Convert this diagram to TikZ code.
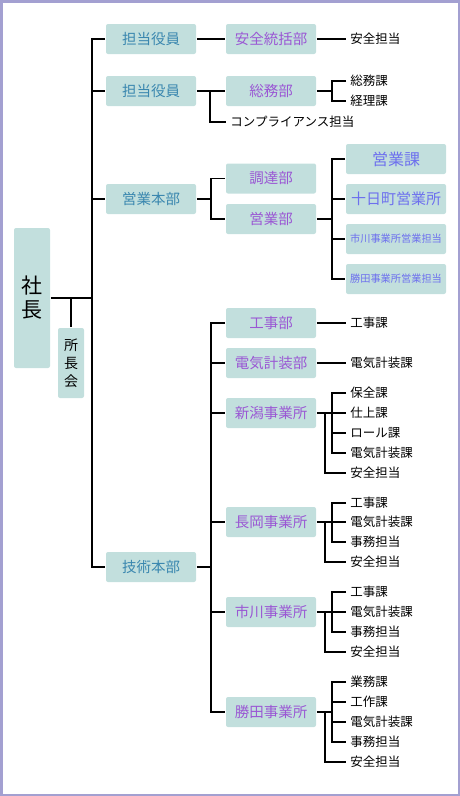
\documentclass[tikz,border=0pt]{standalone}
\usepackage{fontspec}
\setmainfont{Noto Sans CJK JP}
\definecolor{boxfill}{HTML}{C2DFDD}
\definecolor{headtext}{HTML}{3A87AF}
\definecolor{depttext}{HTML}{9A57D4}
\definecolor{salestext}{HTML}{6D70EE}
\definecolor{framecol}{HTML}{A3A0D1}
\begin{document}
\begin{tikzpicture}
  [x=1pt,y=-1pt,line width=1.8pt,
   box/.style={fill=boxfill,rounded corners=2pt,inner sep=0pt,minimum width=90pt,minimum height=30pt,font=\fontsize{14.5}{16}\selectfont},
   head box/.style={box,text=headtext},
   dept box/.style={box,text=depttext},
   sales box/.style={box,text=salestext,minimum width=100pt},
   item/.style={anchor=west,inner xsep=3.5pt,inner ysep=1pt,font=\fontsize{12.5}{14}\selectfont}]
  \useasboundingbox (0,0) rectangle (460,796);
  \draw[framecol,line width=2.5pt] (1.25,1.25) rectangle (458.75,794.75);

  % top
  \node[box,minimum width=36pt,minimum height=140pt,align=center,font=\fontsize{21}{24}\selectfont] (shacho) at (32,298) {社\\長};
  \node[box,minimum width=26pt,minimum height=70pt,align=center,font=\fontsize{14}{18}\selectfont] (shochokai) at (71,363) {所\\長\\会};

  % honbu
  \node[head box] (yakuin1) at (151,39) {担当役員};
  \node[head box] (yakuin2) at (151,91) {担当役員};
  \node[head box] (eigyohonbu) at (151,199) {営業本部};
  \node[head box] (gijutsu) at (151,567) {技術本部};

  % bu
  \node[dept box] (anzentokatsu) at (271,39) {安全統括部};
  \node[dept box] (somu) at (271,91) {総務部};
  \node[dept box] (chotatsu) at (271,178.5) {調達部};
  \node[dept box] (eigyobu) at (271,219) {営業部};
  \node[dept box] (koji) at (271,323) {工事部};
  \node[dept box] (denki) at (271,363) {電気計装部};
  \node[dept box] (niigata) at (271,413) {新潟事業所};
  \node[dept box] (nagaoka) at (271,522) {長岡事業所};
  \node[dept box] (ichikawa) at (271,612) {市川事業所};
  \node[dept box] (katsuta) at (271,712) {勝田事業所};

  % eigyo
  \node[sales box,font=\fontsize{16}{18}\selectfont] (eigyoka) at (396,159) {営業課};
  \node[sales box,font=\fontsize{15}{18}\selectfont] (tokamachi) at (396,199) {十日町営業所};
  \node[sales box,font=\fontsize{10.2}{12}\selectfont] (ichikawaeigyo) at (396,239) {市川事業所営業担当};
  \node[sales box,font=\fontsize{10.2}{12}\selectfont] (katsutaeigyo) at (396,279) {勝田事業所営業担当};

  % ka
  \node[item] (anzen1) at (346,39) {安全担当};
  \node[item] (compliance) at (226,122) {コンプライアンス担当};
  \node[item] (somuka) at (346,81) {総務課};
  \node[item] (keirika) at (346,101) {経理課};
  \node[item] (kojika1) at (346,323) {工事課};
  \node[item] (denkika1) at (346,363) {電気計装課};
  \node[item] (hozen) at (346,393) {保全課};
  \node[item] (shiage) at (346,413) {仕上課};
  \node[item] (roll) at (346,433) {ロール課};
  \node[item] (denkika2) at (346,453) {電気計装課};
  \node[item] (anzen2) at (346,473) {安全担当};
  \node[item] (kojika2) at (346,503) {工事課};
  \node[item] (denkika3) at (346,522) {電気計装課};
  \node[item] (jimu1) at (346,542) {事務担当};
  \node[item] (anzen3) at (346,562) {安全担当};
  \node[item] (kojika3) at (346,592) {工事課};
  \node[item] (denkika4) at (346,612) {電気計装課};
  \node[item] (jimu2) at (346,632) {事務担当};
  \node[item] (anzen4) at (346,652) {安全担当};
  \node[item] (gyomu) at (346,682) {業務課};
  \node[item] (kosaku) at (346,702) {工作課};
  \node[item] (denkika5) at (346,722) {電気計装課};
  \node[item] (jimu3) at (346,742) {事務担当};
  \node[item] (anzen5) at (346,762) {安全担当};

  \coordinate (trunk) at (92,298);
  \coordinate (y2) at (210,91);
  \coordinate (s2) at (332,91);
  \coordinate (e2) at (211,199);
  \coordinate (e3) at (332,219);
  \coordinate (g2) at (211,567);
  \coordinate (n1) at (332,413);
  \coordinate (n2) at (325,413);
  \coordinate (a1) at (332,522);
  \coordinate (a2) at (325,522);
  \coordinate (i1) at (332,612);
  \coordinate (i2) at (325,612);
  \coordinate (k1) at (332,712);
  \coordinate (k2) at (325,712);

  \draw (shacho) -- (trunk);
  \draw (shochokai) -- (shochokai.north |- trunk);
  \draw (yakuin1) -| (trunk) |- (gijutsu);
  \draw (trunk |- yakuin2) -- (yakuin2);
  \draw (trunk |- eigyohonbu) -- (eigyohonbu);

  \draw (yakuin1) -- (anzentokatsu);
  \draw (anzentokatsu) -- (anzen1);
  \draw (yakuin2) -- (somu);
  \draw (y2) |- (compliance);
  \draw (somu) -- (s2);
  \draw (somuka) -| (s2) |- (keirika);

  \draw (eigyohonbu) -- (e2);
  \draw (chotatsu) -| (e2) |- (eigyobu);
  \draw (eigyobu) -- (e3);
  \draw (eigyoka) -| (e3) |- (katsutaeigyo);
  \draw (e3 |- tokamachi) -- (tokamachi);
  \draw (e3 |- ichikawaeigyo) -- (ichikawaeigyo);

  \draw (gijutsu) -- (g2);
  \draw (koji) -| (g2) |- (katsuta);
  \foreach \n in {denki,niigata,nagaoka,ichikawa}
    \draw (g2 |- \n) -- (\n);
  \draw (koji) -- (kojika1);
  \draw (denki) -- (denkika1);

  \draw (niigata) -- (shiage);
  \draw (hozen) -| (n1) |- (denkika2);
  \draw (n1 |- roll) -- (roll);
  \draw (n2) |- (anzen2);

  \draw (nagaoka) -- (denkika3);
  \draw (kojika2) -| (a1) |- (jimu1);
  \draw (a2) |- (anzen3);

  \draw (ichikawa) -- (denkika4);
  \draw (kojika3) -| (i1) |- (jimu2);
  \draw (i2) |- (anzen4);

  \draw (katsuta) -- (k1);
  \draw (gyomu) -| (k1) |- (jimu3);
  \draw (k1 |- kosaku) -- (kosaku);
  \draw (k1 |- denkika5) -- (denkika5);
  \draw (k2) |- (anzen5);
\end{tikzpicture}
\end{document}
